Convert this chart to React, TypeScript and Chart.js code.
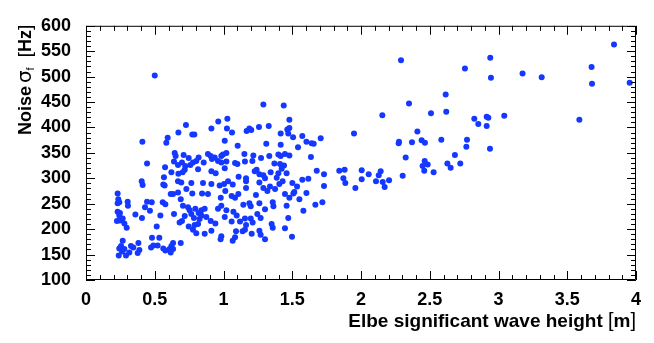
import React, { useEffect, useRef } from "react";
import { Chart, registerables } from "chart.js";

Chart.register(...registerables);

// [wave height (m), noise sigma_f (Hz)]
const calmSea: [number, number][] = [
  [0.5, 502], [0.41, 372], [0.594, 380], [0.584, 370], [0.444, 329], [0.575, 322], [0.567, 302],
  [0.405, 294], [0.412, 287], [0.562, 288], [0.572, 286], [0.23, 270], [0.235, 259], [0.23, 251],
  [0.242, 253], [0.303, 254], [0.305, 246], [0.429, 243], [0.444, 254], [0.478, 253], [0.465, 236],
  [0.407, 222], [0.359, 229], [0.541, 227], [0.558, 253], [0.577, 249], [0.23, 234], [0.247, 232],
  [0.242, 227], [0.225, 216], [0.247, 217], [0.267, 221], [0.279, 211], [0.296, 203], [0.514, 205],
  [0.267, 177], [0.255, 167], [0.242, 162], [0.238, 148], [0.262, 156], [0.279, 161], [0.291, 148],
  [0.327, 167], [0.344, 164], [0.381, 173], [0.388, 159], [0.376, 153], [0.315, 154], [0.48, 183],
  [0.533, 183], [0.473, 164], [0.49, 168], [0.521, 168], [0.562, 162], [0.577, 158],
];

const moderateSea: [number, number][] = [
  [0.727, 405], [0.672, 390], [0.773, 386], [0.788, 386], [0.912, 398], [0.962, 412], [1.028, 417],
  [1.025, 398], [1.009, 374], [0.645, 350], [0.652, 344], [0.71, 346], [0.747, 340], [0.64, 333],
  [0.669, 326], [0.698, 331], [0.722, 324], [0.718, 317], [0.703, 312], [0.672, 309], [0.621, 312],
  [0.759, 326], [0.778, 331], [0.802, 334], [0.819, 341], [0.856, 331], [0.887, 348], [0.907, 344],
  [0.916, 338], [0.936, 341], [0.96, 334], [0.984, 344], [0.996, 347], [1.021, 350], [0.984, 331],
  [1.021, 333], [0.815, 318], [0.912, 314], [0.943, 310], [1.009, 320],
  [0.669, 294], [0.693, 292], [0.766, 291], [0.851, 291], [0.912, 289], [0.972, 286], [1.004, 289],
  [1.033, 294], [0.616, 269], [0.633, 269], [0.669, 272], [0.73, 279], [0.689, 259], [0.773, 270],
  [0.844, 270], [0.887, 269], [0.98, 262], [1.013, 275], [0.984, 246], [0.96, 240], [0.705, 246],
  [0.742, 243], [0.754, 237], [0.766, 230], [0.795, 240], [0.819, 232], [0.839, 237], [0.863, 240],
  [0.839, 227], [0.785, 222], [0.826, 220], [0.875, 224], [0.907, 216], [0.941, 211], [1.009, 224],
  [1.021, 237], [0.64, 230], [0.718, 226], [0.698, 216], [0.681, 213], [0.747, 205], [0.79, 208],
  [0.815, 210], [0.778, 199], [0.802, 192], [0.863, 191], [0.912, 197], [0.984, 186], [0.979, 180],
  [0.633, 173], [0.689, 173], [0.621, 167], [0.608, 161], [0.633, 161], [0.616, 154],
];

const roughSea: [number, number][] = [
  [1.29, 445], [1.438, 443], [1.479, 415], [1.062, 390], [1.168, 393], [1.188, 398], [1.202, 395],
  [1.258, 401], [1.329, 403], [1.479, 399], [1.464, 396], [1.471, 388], [1.416, 388], [1.103, 364],
  [1.311, 368], [1.416, 366], [1.152, 348], [1.217, 345], [1.273, 340], [1.333, 344], [1.399, 347],
  [1.416, 344], [1.447, 348], [1.479, 345], [1.084, 330], [1.101, 328], [1.156, 333], [1.21, 334],
  [1.37, 329], [1.411, 328], [1.44, 325], [1.423, 319], [1.241, 317], [1.227, 314], [1.261, 308],
  [1.29, 306], [1.343, 312], [1.399, 310], [1.459, 310], [1.11, 303], [1.164, 300], [1.302, 300],
  [1.387, 301],
  [1.067, 288], [1.164, 294], [1.164, 281], [1.261, 292], [1.29, 281], [1.338, 284], [1.375, 279],
  [1.406, 289], [1.43, 294], [1.319, 275], [1.447, 269], [1.479, 262], [1.059, 265], [1.084, 262],
  [1.108, 269], [1.144, 248], [1.188, 251], [1.198, 245], [1.236, 267], [1.261, 251], [1.302, 239],
  [1.358, 253], [1.363, 245], [1.459, 246], [1.471, 222], [1.447, 202], [1.072, 234], [1.096, 227],
  [1.059, 215], [1.12, 215], [1.156, 221], [1.164, 208], [1.198, 221], [1.212, 213], [1.246, 230],
  [1.27, 222], [1.156, 199], [1.139, 196], [1.091, 196], [1.084, 184], [1.067, 177], [1.205, 191],
  [1.261, 197], [1.27, 189], [1.35, 210], [1.358, 203], [1.302, 180],
];

const heavySea: [number, number][] = [
  [1.506, 381], [1.573, 383], [1.707, 379], [1.603, 372], [1.641, 369], [1.656, 368], [1.542, 361],
  [1.949, 388], [2.155, 424], [1.636, 342], [1.678, 315], [1.731, 308], [1.842, 315], [1.881, 317],
  [1.872, 300], [1.886, 291], [2.005, 316], [2.056, 308], [2.143, 314], [2.129, 306], [2.109, 294],
  [2.158, 293], [2.172, 283], [2.204, 296], [2.005, 298], [1.959, 281], [1.731, 285], [1.617, 299],
  [1.573, 297], [1.501, 291], [1.535, 284], [1.515, 273], [1.508, 270], [1.603, 271], [1.552, 259],
  [1.719, 253], [1.668, 248], [1.581, 236], [1.498, 185],
];

const stormSea: [number, number][] = [
  [2.291, 532], [2.94, 537], [2.756, 516], [2.945, 498], [3.175, 506], [3.314, 499], [3.677, 519],
  [3.68, 486], [3.84, 563], [3.954, 488], [2.616, 465], [2.349, 447], [2.62, 431], [2.509, 428],
  [2.824, 417], [2.914, 421], [2.926, 419], [3.042, 423], [2.853, 407], [2.914, 403], [3.588, 415],
  [2.41, 392], [2.274, 369], [2.276, 372], [2.371, 371], [2.441, 375], [2.465, 370], [2.584, 376],
  [2.771, 376], [2.766, 362], [2.938, 358], [2.325, 341], [2.463, 334], [2.485, 327], [2.448, 324],
  [2.46, 315], [2.628, 329], [2.652, 321], [2.683, 346], [2.722, 329], [2.528, 312], [2.303, 305],
];

const xTickValues = [0, 0.5, 1, 1.5, 2, 2.5, 3, 3.5, 4];
const yTickValues = [100, 150, 200, 250, 300, 350, 400, 450, 500, 550, 600];

const FONT = "'Liberation Sans', Arial, Helvetica, sans-serif";

const framePlugin = {
  id: "rootFrame",
  afterDraw(chart: any) {
    const { ctx, chartArea, scales } = chart;
    const { left, right, top, bottom } = chartArea;
    const xs = scales.x;
    const ys = scales.y;
    ctx.save();
    ctx.strokeStyle = "#000";
    ctx.lineWidth = 1;
    ctx.beginPath();
    ctx.rect(left + 0.5, top + 0.5, right - left - 1, bottom - top - 1);
    ctx.stroke();
    ctx.beginPath();
    for (let i = 0; i <= 40; i++) {
      const px = Math.round(xs.getPixelForValue(i / 10)) + 0.5;
      const len = i % 5 === 0 ? 9 : 5;
      ctx.moveTo(px, bottom);
      ctx.lineTo(px, bottom - len);
      ctx.moveTo(px, top);
      ctx.lineTo(px, top + len);
    }
    for (let i = 0; i <= 50; i++) {
      const py = Math.round(ys.getPixelForValue(100 + i * 10)) + 0.5;
      const len = i % 5 === 0 ? 9 : 5;
      ctx.moveTo(left, py);
      ctx.lineTo(left + len, py);
      ctx.moveTo(right, py);
      ctx.lineTo(right - len, py);
    }
    ctx.stroke();

    ctx.fillStyle = "#000";
    ctx.textBaseline = "alphabetic";
    type Piece = { t: string; f: string; dy?: number; gap?: number };
    const drawPieces = (pieces: Piece[], x0: number, y0: number) => {
      let x = x0;
      for (const p of pieces) {
        ctx.font = p.f;
        ctx.fillText(p.t, x, y0 + (p.dy || 0));
        x += ctx.measureText(p.t).width + (p.gap || 0);
      }
    };
    const widthOf = (pieces: Piece[]) => {
      let w = 0;
      for (const p of pieces) {
        ctx.font = p.f;
        w += ctx.measureText(p.t).width + (p.gap || 0);
      }
      return w;
    };
    const xTitle: Piece[] = [
      { t: "Elbe significant wave height ", f: `bold 19px ${FONT}` },
      { t: "[", f: `20px ${FONT}` },
      { t: "m", f: `bold 19px ${FONT}` },
      { t: "]", f: `20px ${FONT}` },
    ];
    const wx = widthOf(xTitle);
    drawPieces(xTitle, right - wx, 327);

    const yTitle: Piece[] = [
      { t: "Noise", f: `bold 18px ${FONT}`, gap: 3 },
      { t: "σ", f: `20px 'DejaVu Sans', ${FONT}` },
      { t: "f", f: `11px ${FONT}`, dy: 3, gap: 10 },
      { t: "[", f: `19px ${FONT}` },
      { t: "Hz", f: `bold 18px ${FONT}` },
      { t: "]", f: `19px ${FONT}` },
    ];
    const wy = widthOf(yTitle);
    ctx.translate(31, top - 1);
    ctx.rotate(-Math.PI / 2);
    drawPieces(yTitle, -wy, 0);
    ctx.restore();
  },
};

export default function App() {
  const canvasRef = useRef<HTMLCanvasElement | null>(null);

  useEffect(() => {
    if (!canvasRef.current) return;
    const all = [...calmSea, ...moderateSea, ...roughSea, ...heavySea, ...stormSea];
    const chart = new Chart(canvasRef.current, {
      type: "scatter",
      data: {
        datasets: [
          {
            data: all.map(([x, y]) => ({ x, y })),
            backgroundColor: "#1438ff",
            borderWidth: 0,
            pointRadius: 3,
            pointHoverRadius: 3,
          },
        ],
      },
      options: {
        responsive: false,
        animation: false,
        events: [],
        layout: { padding: { top: 16, right: 18, left: 0, bottom: 0 } },
        plugins: { legend: { display: false }, tooltip: { enabled: false } },
        scales: {
          x: {
            type: "linear",
            min: 0,
            max: 4,
            afterBuildTicks: (s: any) => {
              s.ticks = xTickValues.map((v) => ({ value: v }));
            },
            afterFit: (s: any) => {
              s.height = 63;
            },
            grid: { display: false, drawTicks: false },
            border: { display: false },
            ticks: {
              autoSkip: false,
              maxRotation: 0,
              padding: 9,
              color: "#000",
              font: { family: FONT, size: 18, weight: "bold" },
              callback: (v: any) => String(v),
            },
          },
          y: {
            type: "linear",
            min: 100,
            max: 600,
            afterBuildTicks: (s: any) => {
              s.ticks = yTickValues.map((v) => ({ value: v }));
            },
            afterFit: (s: any) => {
              s.width = 86;
            },
            grid: { display: false, drawTicks: false },
            border: { display: false },
            ticks: {
              autoSkip: false,
              padding: 15,
              color: "#000",
              font: { family: FONT, size: 18, weight: "bold" },
              callback: (v: any) => String(v),
            },
          },
        },
      },
      plugins: [framePlugin],
    } as any);
    return () => chart.destroy();
  }, []);

  return (
    <div style={{ position: "absolute", left: 0, top: 0, width: 654, height: 343, background: "#fff" }}>
      <canvas ref={canvasRef} width={654} height={343} style={{ display: "block" }} />
    </div>
  );
}
